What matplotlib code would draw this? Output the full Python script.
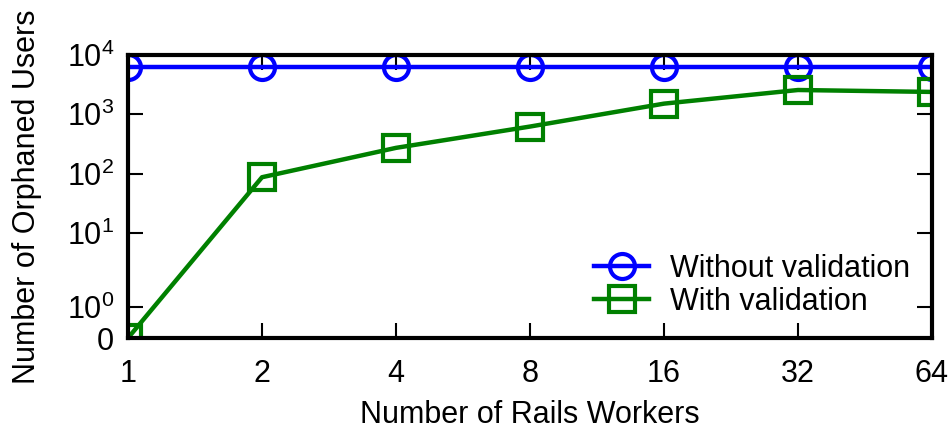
import numpy as np
import matplotlib
matplotlib.use("Agg")
import matplotlib.pyplot as plt

plt.rcParams['font.family'] = ['Liberation Sans', 'DejaVu Sans']
plt.rcParams['mathtext.fontset'] = 'custom'
plt.rcParams['mathtext.rm'] = 'Liberation Sans'

workers = [1, 2, 4, 8, 16, 32, 64]
without_val = [6350, 6350, 6350, 6350, 6350, 6350, 6350]
with_val = [0, 87, 272, 622, 1514, 2570, 2385]
yticks = [0, 1, 10, 100, 1000, 10000]
ylabels = ['0', r'$\mathregular{10^{0}}$', r'$\mathregular{10^{1}}$',
           r'$\mathregular{10^{2}}$', r'$\mathregular{10^{3}}$', r'$\mathregular{10^{4}}$']


# odd y axis: 0..1 linear, 1..10 stretched decade, then regular decades
def fwd(v):
    v = np.asarray(v, dtype=float)
    vc = np.clip(v, 1e-12, None)
    lo = 31.0 * v
    mid = 31.0 + 74.0 * np.log10(vc)
    hi = 105.0 + 59.3 * np.log10(vc / 10.0)
    return np.where(v <= 1, lo, np.where(v <= 10, mid, hi))


def inv(u):
    u = np.asarray(u, dtype=float)
    lo = u / 31.0
    mid = 10.0 ** np.clip((u - 31.0) / 74.0, -50, 50)
    hi = 10.0 * 10.0 ** np.clip((u - 105.0) / 59.3, -50, 50)
    return np.where(u <= 31, lo, np.where(u <= 105, mid, hi))


fig = plt.figure(figsize=(9.5, 4.36), dpi=100)
ax = fig.add_axes([128 / 950, 98 / 436, 804 / 950, 283 / 436])

ax.plot(workers, without_val, color='#0000ff', lw=3.2, marker='o', ms=18,
        mfc='none', mec='#0000ff', mew=3, label='Without validation')
ax.plot(workers, with_val, color='#008000', lw=3.2, marker='s', ms=19,
        mfc='none', mec='#008000', mew=3, label='With validation')

ax.set_xscale('log', base=2)
ax.set_xlim(1, 64)
ax.set_xticks(workers)
ax.set_xticklabels([str(w) for w in workers])
ax.minorticks_off()

ax.set_yscale('function', functions=(fwd, inv))
ax.set_ylim(0, 10000)
ax.set_yticks(yticks)
ax.set_yticklabels(ylabels)
ax.yaxis.set_minor_locator(matplotlib.ticker.NullLocator())
ax.xaxis.set_minor_locator(matplotlib.ticker.NullLocator())

ax.tick_params(direction='in', length=11, width=1.5, labelsize=22,
               top=True, right=True, pad=10)
ax.tick_params(axis='x', pad=15)
for s in ax.spines.values():
    s.set_linewidth(3)

ax.set_xlabel('Number of Rails Workers', fontsize=22, labelpad=8)
ax.set_ylabel('Number of Orphaned Users', fontsize=22, labelpad=18)

ax.legend(loc='lower right', bbox_to_anchor=(1.0, 0.0), frameon=False,
          fontsize=22, handlelength=1.8, labelspacing=0.1, borderaxespad=0.3,
          handletextpad=0.7)

fig.savefig('out.png', dpi=100)
